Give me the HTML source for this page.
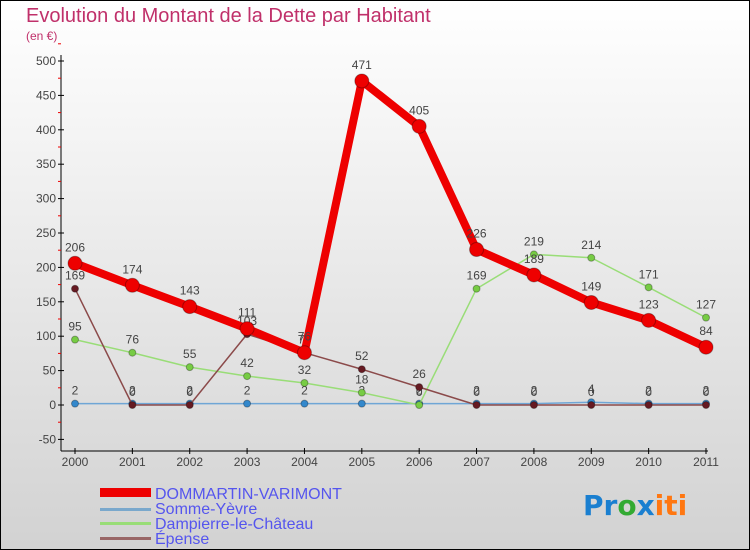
<!DOCTYPE html>
<html><head><meta charset="utf-8"><style>
body{margin:0}
#c{width:750px;height:550px;position:relative;box-sizing:border-box;border:1px solid #000;background:linear-gradient(#fff,#d2d2d2);font-family:"Liberation Sans",sans-serif;overflow:hidden}
</style></head><body>
<div id="c">
<svg width="750" height="550" style="position:absolute;left:-1px;top:-1px" id="svg">
<text x="26" y="22" font-size="20" fill="#c0306a">Evolution du Montant de la Dette par Habitant</text>
<text x="26" y="40" font-size="12" fill="#c0306a">(en €)</text>
<g id="axes"></g><g id="series"></g>
<g font-size="16" fill="#5555ee">
<rect x="100" y="488" width="51" height="9" fill="#e00"/>
<text x="155" y="499">DOMMARTIN-VARIMONT</text>
<rect x="100" y="508" width="51" height="3" fill="#7aa8cc"/>
<text x="155" y="514">Somme-Yèvre</text>
<rect x="100" y="522" width="51" height="3" fill="#99dd77"/>
<text x="155" y="529">Dampierre-le-Château</text>
<rect x="100" y="537" width="51" height="3" fill="#996666"/>
<text x="155" y="544">Épense</text>
</g>
<g font-size="28" font-weight="bold" font-family="'DejaVu Sans',sans-serif">
<text x="583" y="515"><tspan fill="#1a7fd0">Pr</tspan><tspan fill="#33aa33">o</tspan><tspan fill="#1a7fd0">x</tspan><tspan fill="#ff7711">iti</tspan></text>
</g>
</svg>
</div>
<script>
const years=["2000","2001","2002","2003","2004","2005","2006","2007","2008","2009","2010","2011"];
const yTicks=[-50,0,50,100,150,200,250,300,350,400,450,500];
const dommartin=[206,174,143,111,76,471,405,226,189,149,123,84];
const somme=[2,2,2,2,2,2,2,2,2,4,2,2];
const dampierre=[95,76,55,42,32,18,0,169,219,214,171,127];
const epense=[169,0,0,103,76,52,26,0,0,0,0,0];
const NS="http://www.w3.org/2000/svg";
const X=i=>75+i*(706-75)/11;
const Y=v=>405-v*(405-61)/500;
function mk(t,a,p){const e=document.createElementNS(NS,t);for(const k in a)e.setAttribute(k,a[k]);p.appendChild(e);return e;}
const ax=document.getElementById('axes');
let e=mk('line',{x1:61,y1:55,x2:61,y2:451,stroke:'#000'},ax);


e=mk('line',{x1:61,y1:451,x2:708,y2:451,stroke:'#000'},ax);


yTicks.forEach(v=>{const y=Y(v);mk('line',{x1:58,y1:y,x2:64,y2:y,stroke:'#000'},ax);
mk('line',{x1:58,y1:Y(v+25),x2:61,y2:Y(v+25),stroke:'#e00'},ax);
const t=mk('text',{x:56,y:y+4,'font-size':12,fill:'#444','text-anchor':'end'},ax);t.textContent=v;

});
years.forEach((yr,i)=>{mk('line',{x1:X(i),y1:448,x2:X(i),y2:454,stroke:'#000'},ax);
const t=mk('text',{x:X(i),y:466,'font-size':12,fill:'#444','text-anchor':'middle'},ax);t.textContent=yr;

});
const sg=document.getElementById('series');
function series(d,name,col,w,r,dot,lab){const g=mk('g',{},sg);


mk('polyline',{points:d.map((v,i)=>X(i)+','+Y(v)).join(' '),fill:'none',stroke:col,'stroke-width':w,'stroke-linejoin':'round'},g);
d.forEach((v,i)=>{const c=mk('circle',{cx:X(i),cy:Y(v),r:r,fill:dot,stroke:'rgba(0,0,0,0.3)'},g);


const t=mk('text',{x:X(i),y:Y(v)-9-(r>5?3:0),'font-size':12,fill:'#444','text-anchor':'middle'},g);t.textContent=v;

});}
series(somme,'somme-yevre','#6fa6d6',1.5,3.5,'#3388cc');
series(dampierre,'dampierre','#99dd77',1.5,3.5,'#77cc44');
series(epense,'epense','#8b4a4a',1.5,3.5,'#661a22');
series(dommartin,'dommartin','#ee0000',8,7,'#ee0000');
</script>
</body></html>
